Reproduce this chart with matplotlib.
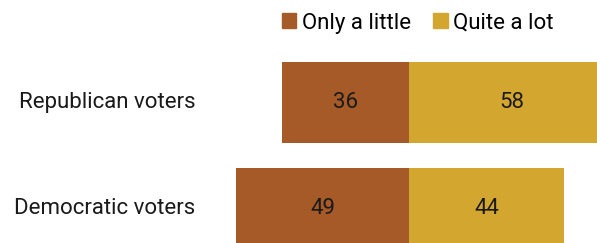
import matplotlib
matplotlib.use("Agg")
import matplotlib.pyplot as plt
from matplotlib.patches import Patch

# Data
groups = ["Republican voters", "Democratic voters"]
only_little = [36, 49]
quite_lot = [58, 44]
series_names = ["Only a little", "Quite a lot"]

brown = "#A65A28"
gold = "#D3A630"

plt.rcParams['font.family'] = ['Roboto', 'DejaVu Sans']

fig = plt.figure(figsize=(5.97, 2.43), dpi=100)
ax = fig.add_axes([0, 0, 1, 1])

# pixel layout: zero line at x=409, 3.53 px per point
ppu = 3.53
ax.set_xlim(-409 / ppu, (597 - 409) / ppu)
ax.set_ylim((243 - 102.5) / 106, -102.5 / 106)

ypos = list(range(len(groups)))
h = 81 / 106
ax.barh(ypos, [-v for v in only_little], height=h, color=brown)
ax.barh(ypos, quite_lot, height=h, color=gold)

for y, a, b, g in zip(ypos, only_little, quite_lot, groups):
    ax.text(-a / 2, y, str(a), ha='center', va='center', fontsize=16, color='#1a1a1a')
    ax.text(b / 2, y, str(b), ha='center', va='center', fontsize=16, color='#1a1a1a')
    ax.text(-60.5, y, g, ha='right', va='center', fontsize=16, color='#1a1a1a')

handles = [Patch(color=brown), Patch(color=gold)]
fig.legend(handles, series_names, loc='center', bbox_to_anchor=(0.70, 0.905),
           ncol=2, frameon=False, fontsize=16, handlelength=0.65, handleheight=0.65,
           handletextpad=0.25, columnspacing=1.0, borderaxespad=0)

ax.axis('off')
fig.savefig("out.png", dpi=100)
